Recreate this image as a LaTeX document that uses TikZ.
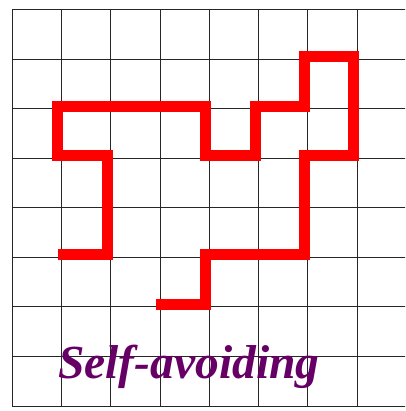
\documentclass[tikz,border=0pt]{standalone}
\usepackage{fontspec}
\newfontfamily\labelfont{Liberation Serif}
\definecolor{walkred}{RGB}{255,0,0}
\definecolor{labelpurple}{RGB}{102,0,102}
\begin{document}
\begin{tikzpicture}[x=1pt,y=-1pt,
  gridline/.style={draw=black!85,line width=0.8pt},
  walk/.style={draw=walkred,line width=11pt,line cap=butt,line join=miter},
  labeltext/.style={text=labelpurple,font=\labelfont\bfseries\itshape\fontsize{47.5}{50}\selectfont,inner sep=0pt}]
\useasboundingbox (0,0) rectangle (405,411);
\begin{scope}
\clip (0,0) rectangle (405,411);
\begin{scope}[shift={(12,9.5)},x=49.3pt,y=-49.55pt]
  \foreach \k in {0,...,8} {
    \draw[gridline] (\k,0) -- (\k,8);
    \draw[gridline] (0,\k) -- (8,\k);
  }
\end{scope}
\begin{scope}[shift={(8.5,7)},x=49.3pt,y=-49.55pt]
  \draw[walk] (3,6) -- (4,6) -- (4,5) -- (6,5) -- (6,3) -- (7,3) -- (7,1)
    -- (6,1) -- (6,2) -- (5,2) -- (5,3) -- (4,3) -- (4,2) -- (1,2)
    -- (1,3) -- (2,3) -- (2,5) -- (1,5);
\end{scope}
\end{scope}
\node[labeltext,anchor=base west] (lbl) at (58,378) {Self-avoiding};
\end{tikzpicture}
\end{document}
